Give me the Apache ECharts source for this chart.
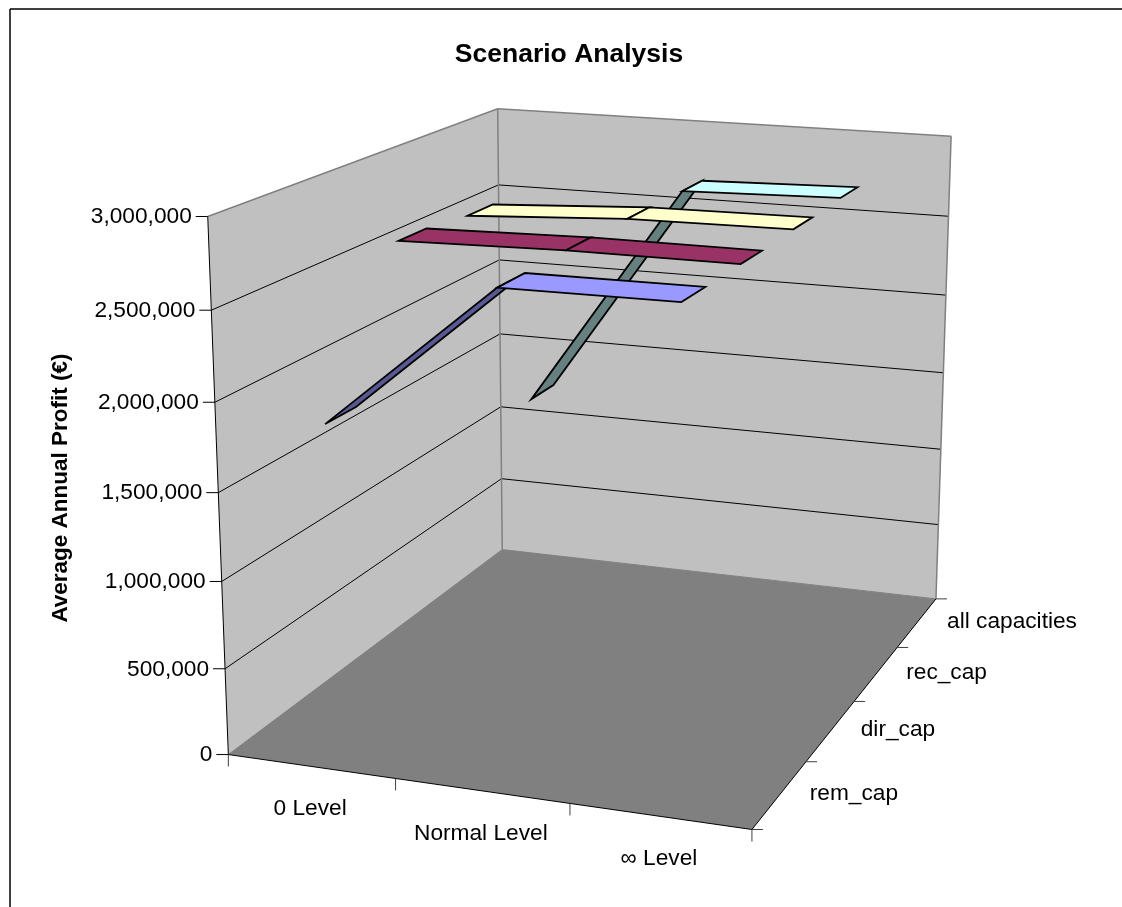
<!DOCTYPE html>
<html><head><meta charset="utf-8">
<style>html,body{margin:0;padding:0;background:#fff}#c{width:1122px;height:907px}</style>
<script src="https://cdn.jsdelivr.net/npm/echarts@6/dist/echarts.min.js"></script>
</head><body><div id="c"></div>
<script>
const levels = ['0 Level', 'Normal Level', '∞ Level'];
const capacities = ['rem_cap', 'dir_cap', 'rec_cap', 'all capacities'];
const remCap = [1855000, 2680000, 2683000];
const dirCap = [2667000, 2687000, 2685000];
const recCap = [2633000, 2684000, 2693000];
const allCap = [1270000, 2678000, 2703000];
const valueTicks = [0, 500000, 1000000, 1500000, 2000000, 2500000, 3000000];
const seriesValues = [remCap, dirCap, recCap, allCap];
const flatColors = ['#9999FF', '#993366', '#FFFFCC', '#CCFFFF'];
const steepColors = ['#585892', '#993366', '#FFFFCC', '#668080'];
const valueMax = 3000000;
const calib = [[0,0,0,228.5,755],[1,0,0,752,829],[1,1,0,936,599.5],[0,1,0,502,549],[0,0,1,207.5,216.5],[0,1,1,498,109],[1,1,1,951,136]];

function solve(A, b) {
  const n = b.length, M = A.map((r, i) => r.concat(b[i]));
  for (let i = 0; i < n; i++) {
    let p = i;
    for (let r = i + 1; r < n; r++) if (Math.abs(M[r][i]) > Math.abs(M[p][i])) p = r;
    [M[i], M[p]] = [M[p], M[i]];
    for (let r = 0; r < n; r++) if (r !== i) {
      const f = M[r][i] / M[i][i];
      for (let c = i; c <= n; c++) M[r][c] -= f * M[i][c];
    }
  }
  return M.map((r, i) => r[n] / r[i]);
}
const rows = [], rhs = [];
calib.forEach(([X, Y, Z, x, y]) => {
  rows.push([X, Y, Z, 1, 0, 0, 0, 0, -x * X, -x * Y, -x * Z]); rhs.push(x);
  rows.push([0, 0, 0, 0, X, Y, Z, 1, -y * X, -y * Y, -y * Z]); rhs.push(y);
});
const ATA = Array.from({length: 11}, (_, i) => Array.from({length: 11}, (_, j) => rows.reduce((s, r) => s + r[i] * r[j], 0)));
const ATb = Array.from({length: 11}, (_, i) => rows.reduce((s, r, k) => s + r[i] * rhs[k], 0));
const P = solve(ATA, ATb);
function project(u, v, z) {
  const w = P[8] * u + P[9] * v + P[10] * z + 1;
  return [(P[0] * u + P[1] * v + P[2] * z + P[3]) / w, (P[4] * u + P[5] * v + P[6] * z + P[7]) / w];
}

const font = 'Liberation Sans, Arial, sans-serif';
const line = (a, b, stroke, lw) => ({type: 'line', shape: {x1: a[0], y1: a[1], x2: b[0], y2: b[1]}, style: {stroke, lineWidth: lw || 1}, silent: true});
const poly = (pts, fill, stroke, lw) => ({type: 'polygon', shape: {points: pts}, style: {fill, stroke: stroke || null, lineWidth: lw || 0}, silent: true});
const label = (text, x, y, align) => ({type: 'text', style: {text, x, y, align, verticalAlign: 'middle', fontFamily: font, fontSize: 22.7, fill: '#000'}, silent: true});

function renderBox(params, api) {
  const ch = [];
  ch.push(poly([project(0,0,0), project(0,1,0), project(0,1,1), project(0,0,1)], '#C0C0C0'));
  ch.push(poly([project(0,1,0), project(1,1,0), project(1,1,1), project(0,1,1)], '#C0C0C0'));
  ch.push(poly([project(0,0,0), project(1,0,0), project(1,1,0), project(0,1,0)], '#808080'));
  valueTicks.slice(1, -1).forEach(t => {
    const z = t / valueMax;
    ch.push(line(project(0,0,z), project(0,1,z), '#000'));
    ch.push(line(project(0,1,z), project(1,1,z), '#000'));
  });
  ch.push(line(project(0,0,1), project(0,1,1), '#808080', 1.5));
  ch.push(line(project(0,1,1), project(1,1,1), '#808080', 1.5));
  ch.push(line(project(0,1,0), project(0,1,1), '#808080', 1.5));
  ch.push(line(project(1,1,0), project(1,1,1), '#808080', 1.5));
  ch.push(line(project(0,1,0), project(1,1,0), '#808080', 1));
  ch.push(line(project(0,1,0), project(0,0,0), '#808080', 1));
  ch.push(line(project(0,0,0), project(0,0,1), '#000', 1));
  ch.push(line(project(0,0,0), project(1,0,0), '#000', 1));
  ch.push(line(project(1,0,0), project(1,1,0), '#000', 1));
  valueTicks.forEach(t => {
    const p = project(0,0,t / valueMax);
    ch.push(line([p[0] - 12, p[1]], p, '#000'));
    ch.push(label(t.toLocaleString('en-US'), p[0] - 16, p[1] + 0.5, 'right'));
  });
  for (let i = 0; i <= levels.length; i++) {
    const p = project(i / levels.length, 0, 0);
    ch.push(line(p, [p[0], p[1] + 12], '#404040'));
  }
  levels.forEach((n, i) => {
    const p = project((i + .5) / levels.length, 0, 0);
    ch.push(label(n, p[0] - 1, p[1] + 42.5, 'center'));
  });
  for (let i = 0; i <= capacities.length; i++) {
    const p = project(1, i / capacities.length, 0);
    ch.push(line(p, [p[0] + 11, p[1]], '#404040'));
  }
  capacities.forEach((n, i) => {
    const p = project(1, (i + .5) / capacities.length, 0);
    ch.push(label(n, p[0] + 30, p[1] - 0.5, 'left'));
  });
  return {type: 'group', children: ch};
}
function ribbon(seriesIdx) {
  const d0 = (seriesIdx + .29) / capacities.length, d1 = (seriesIdx + .68) / capacities.length;
  const vals = seriesValues[seriesIdx];
  return function (params, api) {
    const i = params.dataIndex;
    if (i === 0) return null;
    const r = params.coordSys;
    const norm = c => [(c[0] - r.x) / r.width, 1 - (c[1] - r.y) / r.height];
    const a = norm(api.coord([i - 1, vals[i - 1]])), b = norm(api.coord([i, vals[i]]));
    const steep = Math.abs(vals[i] - vals[i - 1]) > 300000;
    return poly([project(a[0], d0, a[1]), project(b[0], d0, b[1]), project(b[0], d1, b[1]), project(a[0], d1, a[1])],
      steep ? steepColors[seriesIdx] : flatColors[seriesIdx], '#000', 1.8);
  };
}
const series = [{type: 'custom', coordinateSystem: 'cartesian2d', clip: false, silent: true, renderItem: renderBox, data: [[0, 0]], z: 1}];
[3, 2, 1, 0].forEach((s, k) => series.push({
  type: 'custom', name: capacities[s], coordinateSystem: 'cartesian2d', clip: false, silent: true, z: 2 + k,
  renderItem: ribbon(s), encode: {x: 0, y: 1},
  data: seriesValues[s].map((v, i) => [i, v])
}));
const chart = echarts.init(document.getElementById('c'), null, {renderer: 'canvas'});
chart.setOption({
  animation: false, backgroundColor: '#fff',
  grid: {left: 0, top: 0, width: 1122, height: 907},
  xAxis: {type: 'category', data: levels, show: false},
  yAxis: {type: 'value', min: 0, max: valueMax, show: false},
  graphic: [
    {type: 'line', shape: {x1: 10, y1: 9, x2: 1122, y2: 9}, style: {stroke: '#000', lineWidth: 1.5}},
    {type: 'line', shape: {x1: 10, y1: 9, x2: 10, y2: 907}, style: {stroke: '#000', lineWidth: 1.5}},
    {type: 'text', x: 569, y: 54.5, style: {text: 'Scenario Analysis', align: 'center', verticalAlign: 'middle', fontFamily: font, fontSize: 26.5, fontWeight: 'bold', fill: '#000'}},
    {type: 'text', x: 61, y: 488, rotation: Math.PI / 2, style: {text: 'Average Annual Profit (€)', align: 'center', verticalAlign: 'middle', fontFamily: font, fontSize: 22.5, fontWeight: 'bold', fill: '#000'}}
  ],
  series
});
</script></body></html>
